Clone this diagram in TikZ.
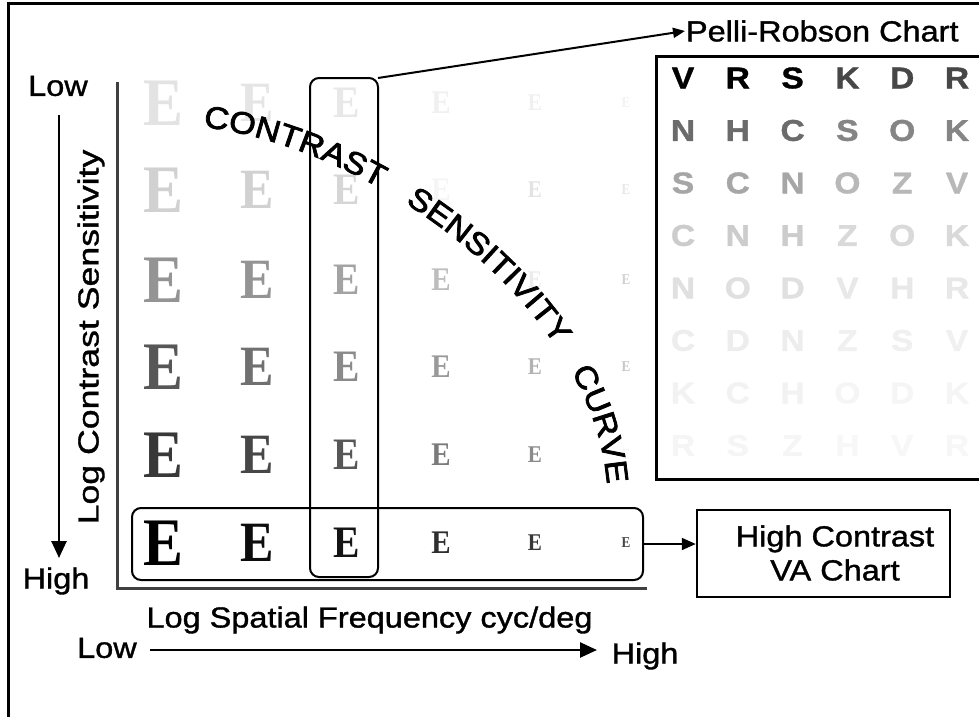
\documentclass[tikz,border=0pt]{standalone}
\usepackage{fontspec}
\setmainfont{Liberation Sans}
\newfontfamily\lab{Liberation Sans}[FakeStretch=1.12, FakeBold=1.2]
\newfontfamily\labw{Liberation Sans}[FakeStretch=1.23, FakeBold=1.2]
\newfontfamily\curvefont{Liberation Sans}[FakeStretch=1.1, FakeBold=2.5]
\newfontfamily\eser{Liberation Serif}
\usetikzlibrary{arrows.meta,decorations.text}
\tikzset{
  lbl/.style={font={\lab\fontsize{29}{34}\selectfont}, inner sep=1pt, outer sep=0pt},
  egl/.style={inner sep=0pt, outer sep=0pt, xscale=0.88},
  sloan/.style={inner sep=0pt, font={\lab\bfseries\fontsize{30}{30}\selectfont}},
  axisline/.style={line width=3pt, draw=black!75},
  arr/.style={line width=2.6pt, -{Triangle[length=17pt,width=15pt]}},
  selbox/.style={draw, line width=2pt, rounded corners=9pt, inner sep=0pt, outer sep=0pt}
}
\begin{document}
\begin{tikzpicture}[x=1pt,y=-1pt]
\useasboundingbox (0,0) rectangle (979,717);
% outer frame
\draw[line width=3pt] (8,717) -- (8,4) -- (979,4);

% E grid
\foreach \r/\y/\ga/\gb/\gc/\gd/\ge/\gf in {
  1/103/11/10/9/6/6/5,
  2/190/18/18/16/4/11/9,
  3/280/42/42/36/26/8/18,
  4/367/66/56/46/40/30/22,
  5/455/78/72/66/52/46/4,
  6/543/100/95/92/82/78/72}{
  \foreach \c/\x/\s/\g in {1/163/68/\ga, 2/257/57/\gb, 3/347/45/\gc, 4/441/33/\gd, 5/535/24/\ge, 6/626/15/\gf}{
    \node[egl, text=black!\g, font={\eser\bfseries\fontsize{\s}{\s}\selectfont}] (e\r\c) at (\x,\y) {E};
  }
}

% axes
\draw[axisline] (117,82) -- (117,588) -- (647,588);

% selection boxes
\node[selbox, minimum width=68pt, minimum height=499pt] (colbox) at (344,327.5) {};
\node[selbox, minimum width=511pt, minimum height=72pt] (rowbox) at (387.5,544) {};

% VA chart box
\node[draw, line width=2.5pt, minimum width=253pt, minimum height=87pt, inner sep=0pt] (vabox) at (823.5,553.5) {};
\node[lbl, align=center] (vatext) at (835,553) {High Contrast\\VA Chart};
\draw[line width=2pt, -{Triangle[length=14pt,width=12pt]}] (rowbox.east) -- (rowbox.east -| vabox.west);

% Pelli-Robson chart
\node[lbl, anchor=west] (pr) at (685,31) {Pelli-Robson Chart};
\draw[line width=2pt, -{Triangle[length=12pt,width=10pt]}] (colbox.north east) -- (pr.west);
\draw[line width=3pt] (979,57) -- (656,57) -- (656,479) -- (979,479);
\foreach \r/\y/\ga/\gb/\L in {
  1/78/100/72/{V,R,S,K,D,R},
  2/130.5/58/48/{N,H,C,S,O,K},
  3/183/35/28/{S,C,N,O,Z,V},
  4/235.5/20/15/{C,N,H,Z,O,K},
  5/288/12/9/{N,O,D,V,H,R},
  6/340.5/7/6/{C,D,N,Z,S,V},
  7/393/5/4/{K,C,H,O,D,K},
  8/445.5/4/3/{R,S,Z,H,V,R}}{
  \foreach \ch [count=\i] in \L {
    \pgfmathtruncatemacro\gg{\i<4 ? \ga : \gb}
    \node[sloan, text=black!\gg] (pl\r\i) at ({683+(\i-1)*54.8},\y) {\ch};
  }
}

% curve text
\coordinate (cs0) at (203,127);
\coordinate (cs1) at (378,148);
\coordinate (cs2) at (593,307);
\coordinate (cs3) at (607,484);
\path[decorate, decoration={text along path,
  text={|\curvefont\fontsize{31}{31}\selectfont|CONTRAST SENSITIVITY CURVE},
  text align={fit to path stretching spaces}}]
  (cs0) .. controls (cs1) and (cs2) .. (cs3);

% y axis label and arrow
\node[lbl] (lowy) at (58,86) {Low};
\node[lbl] (highy) at (56,581) {High};
\coordinate (ya1) at (59,115);
\coordinate (ya2) at (59,558);
\draw[arr] (ya1) -- (ya2);
\node[lbl, font={\labw\fontsize{29}{34}\selectfont}, rotate=90] (ylab) at (91,337) {Log Contrast Sensitivity};

% x axis label and arrow
\node[lbl] (xlab) at (369.5,620) {Log Spatial Frequency cyc/deg};
\node[lbl] (lowx) at (107,648) {Low};
\node[lbl] (highx) at (645,656) {High};
\coordinate (xa1) at (150,650);
\coordinate (xa2) at (597,650);
\draw[arr] (xa1) -- (xa2);
\end{tikzpicture}
\end{document}
